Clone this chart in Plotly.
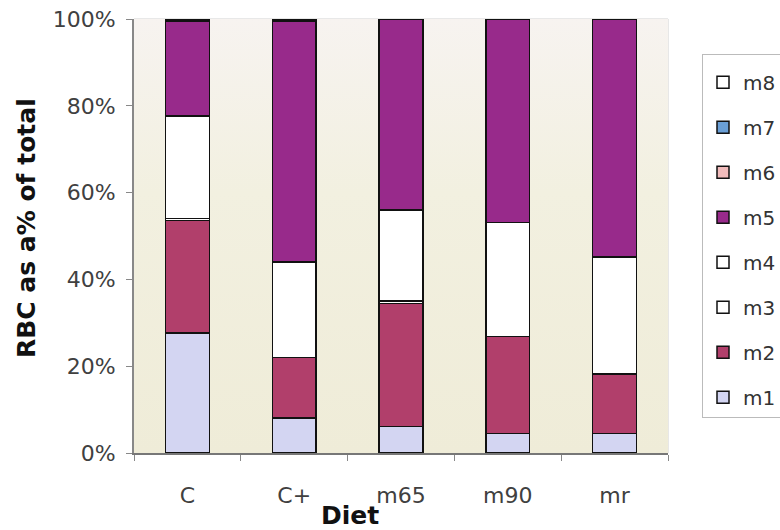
import plotly.graph_objects as go

diets = ["C", "C+", "m65", "m90", "mr"]
m1 = [27.6, 8.1, 6.1, 4.5, 4.5]
m2 = [26.0, 13.9, 28.4, 22.3, 13.7]
m3 = [0.4, 0.0, 0.5, 0.0, 0.0]
m4 = [23.6, 22.0, 21.0, 26.3, 27.0]
m5 = [21.9, 55.5, 44.0, 46.9, 54.8]
m6 = [0.2, 0.2, 0.0, 0.0, 0.0]
m7 = [0.1, 0.1, 0.0, 0.0, 0.0]
m8 = [0.2, 0.2, 0.0, 0.0, 0.0]

series = [("m1", m1, "#d3d5f2"), ("m2", m2, "#b13f6b"), ("m3", m3, "#ffffff"),
          ("m4", m4, "#ffffff"), ("m5", m5, "#982a8b"), ("m6", m6, "#f2bcbc"),
          ("m7", m7, "#6a9fd6"), ("m8", m8, "#ffffff")]

fig = go.Figure()

# background gradient on base axes
fig.add_trace(go.Scatter(x=[0, 1, 1, 0, 0], y=[0, 0, 1, 1, 0], fill="toself",
                         mode="none", showlegend=False, hoverinfo="skip",
                         fillgradient=dict(type="vertical",
                                           colorscale=[[0, "#efecd8"], [0.6, "#f2f0e0"],
                                                       [1, "#f7f3f0"]]),
                         xaxis="x", yaxis="y"))

n = len(series)
for i, (name, vals, col) in enumerate(series):
    fig.add_trace(go.Bar(x=diets, y=vals, name=name, marker_color=col,
                         marker_line=dict(color="#111111", width=1.5),
                         legendgroup=name, legendrank=n - i,
                         xaxis="x2", yaxis="y2"))

font = "DejaVu Sans"
fig.update_layout(
    width=780, height=530, barmode="stack", bargap=0.59,
    margin=dict(l=134, r=112, t=19, b=77, autoexpand=False),
    paper_bgcolor="white", plot_bgcolor="rgba(0,0,0,0)",
    font=dict(family=font, size=17, color="#404040"),
    xaxis=dict(range=[0, 1], visible=False, fixedrange=True),
    yaxis=dict(range=[0, 1], visible=False, fixedrange=True),
    xaxis2=dict(overlaying="x", anchor="y2", tickson="boundaries", ticks="outside",
                ticklen=6, tickcolor="#888888", showline=True, linecolor="#777777",
                linewidth=2, showgrid=False, ticklabelstandoff=22,
                tickfont=dict(size=22, color="#404040")),
    yaxis2=dict(overlaying="y", anchor="x2", range=[0, 100], dtick=20, ticksuffix="%",
                ticks="outside", ticklen=6, tickcolor="#888888", showline=True,
                linecolor="#888888", linewidth=2, gridcolor="#8f8f8f", gridwidth=1,
                ticklabelstandoff=6,
                tickfont=dict(size=22, color="#404040")),
    legend=dict(xref="container", yref="container", x=0.9, xanchor="left",
                y=1 - 54 / 530, yanchor="top", maxheight=420,
                traceorder="grouped", tracegroupgap=16, bgcolor="white",
                bordercolor="#bbbbbb", borderwidth=1,
                title=dict(text=" ", font=dict(size=6)),
                font=dict(size=20, color="#333333")),
    shapes=[dict(type="rect", xref="paper", yref="paper", x0=0, x1=1, y0=0, y1=1,
                 line=dict(color="#d0d0d0", width=1), layer="below")],
    annotations=[
        dict(text="<b>Diet</b>", xref="paper", yref="paper", x=(350 - 134) / 534,
             y=-(515 - 453) / 434, xanchor="center", yanchor="middle", showarrow=False,
             font=dict(size=25, color="#111111")),
        dict(text="<b>RBC as a% of total</b>", xref="paper", yref="paper",
             x=(26 - 134) / 534, y=(453 - 228) / 434, xanchor="center", yanchor="middle",
             textangle=-90, showarrow=False, font=dict(size=25, color="#111111")),
    ],
)

fig.write_html("out.html")
